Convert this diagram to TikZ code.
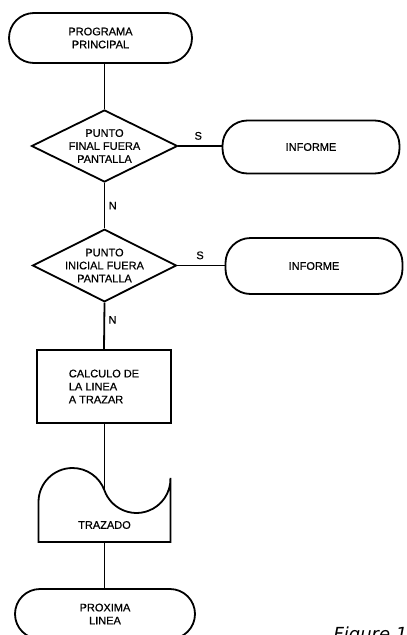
\documentclass[tikz,border=0pt]{standalone}
\usepackage{fontspec}
\setmainfont{Liberation Sans}[FakeBold=0.6]
\newfontfamily\figfont{DejaVu Sans}
\usetikzlibrary{shapes.geometric}
\tikzstyle{line} = [line width=1.8pt]
\tikzstyle{terminal} = [draw,line width=1.8pt,rounded corners=25pt,minimum width=177pt,minimum height=53pt,align=center]
\tikzstyle{decision} = [draw,line width=1.8pt,diamond,inner sep=-10pt,align=center]
\tikzstyle{process} = [draw,line width=1.8pt,minimum width=134pt,minimum height=73pt,align=left]

\begin{document}
\begin{tikzpicture}[x=1pt,y=1pt,font=\fontsize{11}{13}\selectfont]
			\useasboundingbox (0,0) rectangle (407,-635);
			%Nodes
			\node (prog) [terminal,minimum width=183pt,minimum height=50pt] at (100.5,-38) {PROGRAMA\\PRINCIPAL};
			\node (punfin) [decision,minimum width=146pt,minimum height=72pt] at (104.5,-146) {PUNTO\\FINAL FUERA\\PANTALLA};
			\node (infA) [terminal] at (311,-147) {INFORME};
			\node (punini) [decision,minimum width=144pt,minimum height=67pt] at (104.5,-265.5) {PUNTO\\INICIAL FUERA\\PANTALLA};
			\node (infB) [terminal,minimum height=56pt] at (314,-266) {INFORME};
			\node (calc) [process] at (104,-386.5) {CALCULO DE\\LA LINEA\\A TRAZAR};
			\node (traz) at (104.5,-525) {TRAZADO};
			\node (prox) [terminal,minimum width=180pt,minimum height=50pt] at (105,-614) {PROXIMA\\LINEA};
			\node (fig) [anchor=base west,font=\figfont\itshape\fontsize{18}{20}\selectfont] at (330,-640) {Figure 1};
			
			%Trazado symbol
			\coordinate (trazin) at (104.5,-490.5);
			\coordinate (trazout) at (104.5,-542);
			\draw[line] (38.5,-542) -- (38.5,-502) arc[start angle=180,end angle=19.8,radius=34]
				arc[start angle=199.8,end angle=361.7,radius=34] -- (170.5,-542) -- cycle;
			
			%Lines
			\draw[line] (prog.south -| punfin.north) -- (punfin.north);
			\draw[line] (punfin.east) -- node[above,pos=0.46,yshift=2pt]{S} (punfin.east -| infA.west);
			\draw[line] (punfin.south) -- node[right]{N} (punini.north);
			\draw[line] (punini.east) -- node[above,pos=0.48,yshift=2pt]{S} (punini.east -| infB.west);
			\draw[line] (punini.south) -- node[right,pos=0.37]{N} (calc.north);
			\draw[line] (calc.south -| trazin) -- (trazin);
			\draw[line] (trazout) -- (prox.north -| trazout);
		\end{tikzpicture}
\end{document}
